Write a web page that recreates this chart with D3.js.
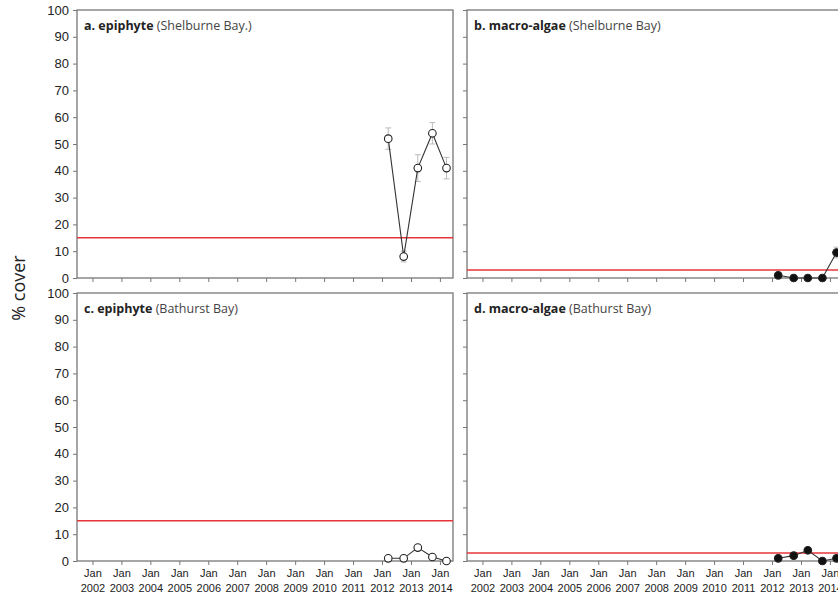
<!DOCTYPE html>
<html><head><meta charset="utf-8">
<script src="https://cdn.jsdelivr.net/npm/d3@7"></script>
<style>body{margin:0;background:#fff}svg{display:block}</style>
</head><body>
<script>
// ---- data ----
const sampleDates = ["2012-03-20", "2012-10-01", "2013-03-28", "2013-09-28", "2014-03-25"];
const epiShelburne = [52, 8, 41, 54, 41];
const epiShelburneErr = [4, 2, 5, 4, 4];
const macroShelburne = [1, 0, 0, 0, 9.5];
const macroShelburneErr = [0.5, 0.5, 0.5, 0.5, 2];
const epiBathurst = [1, 1, 5, 1.5, 0];
const epiBathurstErr = [0.5, 0.5, 0.5, 0.5, 0.5];
const macroBathurst = [1, 2, 4, 0, 1];
const macroBathurstErr = [0.5, 0.5, 0.5, 0.5, 0.5];
const yTicks = [0, 10, 20, 30, 40, 50, 60, 70, 80, 90, 100];
const tickYears = [2002, 2003, 2004, 2005, 2006, 2007, 2008, 2009, 2010, 2011, 2012, 2013, 2014];
const epiThreshold = 15;
const macroThreshold = 3;
const yLabel = "% cover";

const panels = [
  {bold: "a. epiphyte", rest: " (Shelburne Bay.)", vals: epiShelburne, err: epiShelburneErr, thr: epiThreshold, filled: false, col: 0, row: 0},
  {bold: "b. macro-algae", rest: " (Shelburne Bay)", vals: macroShelburne, err: macroShelburneErr, thr: macroThreshold, filled: true, col: 1, row: 0},
  {bold: "c. epiphyte", rest: " (Bathurst Bay)", vals: epiBathurst, err: epiBathurstErr, thr: epiThreshold, filled: false, col: 0, row: 1},
  {bold: "d. macro-algae", rest: " (Bathurst Bay)", vals: macroBathurst, err: macroBathurstErr, thr: macroThreshold, filled: true, col: 1, row: 1}
];

const W = 838, H = 599;
const svg = d3.select("body").append("svg").attr("width", W).attr("height", H)
  .style("font-family", "'Open Sans', 'Liberation Sans', sans-serif");

const colX = [77, 467], rowY = [10, 293];
const pw = 376, ph = 268;
const parse = d3.timeParse("%Y-%m-%d");
const dates = sampleDates.map(parse);
const tickFont = "'Liberation Sans', Arial, sans-serif";

panels.forEach(p => {
  const x0 = colX[p.col], y0 = rowY[p.row];
  const x = d3.scaleTime().domain([parse("2001-06-20"), parse("2014-06-15")]).range([x0, x0 + pw]);
  const y = d3.scaleLinear().domain([0, 100]).range([y0 + ph, y0]);
  const g = svg.append("g");

  // frame
  g.append("rect").attr("x", x0).attr("y", y0).attr("width", pw).attr("height", ph)
    .attr("fill", "none").attr("stroke", "#777").attr("stroke-width", 1.3);

  // y axis
  const ya = g.append("g").attr("transform", `translate(${x0},0)`)
    .call(d3.axisLeft(y).tickValues(yTicks).tickSize(4).tickSizeOuter(0).tickFormat(p.col === 0 ? d3.format("d") : ""));
  ya.select(".domain").remove();
  ya.selectAll("line").attr("stroke", "#777");
  ya.selectAll("text").attr("font-size", 13).attr("fill", "#222").attr("dx", -1);

  // x axis
  const xa = g.append("g").attr("transform", `translate(0,${y0 + ph})`)
    .call(d3.axisBottom(x).tickValues(tickYears.map(yr => new Date(yr, 0, 1))).tickSize(4).tickSizeOuter(0).tickFormat(""));
  xa.select(".domain").remove();
  xa.selectAll("line").attr("stroke", "#777");
  if (p.row === 1) {
    xa.selectAll(".tick").each(function(d) {
      const t = d3.select(this);
      t.append("text").attr("y", 16).attr("text-anchor", "middle").attr("font-size", 11)
        .attr("fill", "#222").style("font-family", tickFont).text("Jan");
      t.append("text").attr("y", 31).attr("text-anchor", "middle").attr("font-size", 11)
        .attr("fill", "#222").style("font-family", tickFont).text(d.getFullYear());
    });
  }

  // threshold
  g.append("line").attr("x1", x0).attr("x2", x0 + pw).attr("y1", y(p.thr)).attr("y2", y(p.thr))
    .attr("stroke", "#e8353a").attr("stroke-width", 1.6);

  // title
  const t = g.append("text").attr("x", x0 + 7).attr("y", y0 + 20).attr("font-size", 12.5).attr("fill", "#222");
  t.append("tspan").attr("font-weight", "bold").text(p.bold);
  t.append("tspan").attr("fill", "#444").text(p.rest);

  const pts = dates.map((d, i) => ({d, v: p.vals[i], e: p.err[i]}));
  // error bars
  const eb = g.append("g").attr("stroke", "#bbb").attr("stroke-width", 1);
  pts.forEach(pt => {
    eb.append("line").attr("x1", x(pt.d)).attr("x2", x(pt.d)).attr("y1", y(pt.v - pt.e)).attr("y2", y(pt.v + pt.e));
    [pt.v - pt.e, pt.v + pt.e].forEach(v => eb.append("line").attr("x1", x(pt.d) - 3).attr("x2", x(pt.d) + 3).attr("y1", y(v)).attr("y2", y(v)));
  });
  // line
  g.append("path").datum(pts).attr("fill", "none").attr("stroke", "#333").attr("stroke-width", 1.1)
    .attr("d", d3.line().x(d => x(d.d)).y(d => y(d.v)));
  g.selectAll("circle.pt").data(pts).join("circle").attr("class", "pt")
    .attr("cx", d => x(d.d)).attr("cy", d => y(d.v)).attr("r", 3.8)
    .attr("fill", p.filled ? "#111" : "#fff").attr("stroke", "#222").attr("stroke-width", 1.1);
});

svg.append("text").attr("transform", "translate(25,288) rotate(-90)").attr("text-anchor", "middle")
  .attr("font-size", 18).attr("fill", "#222").text(yLabel);
</script>
</body></html>
